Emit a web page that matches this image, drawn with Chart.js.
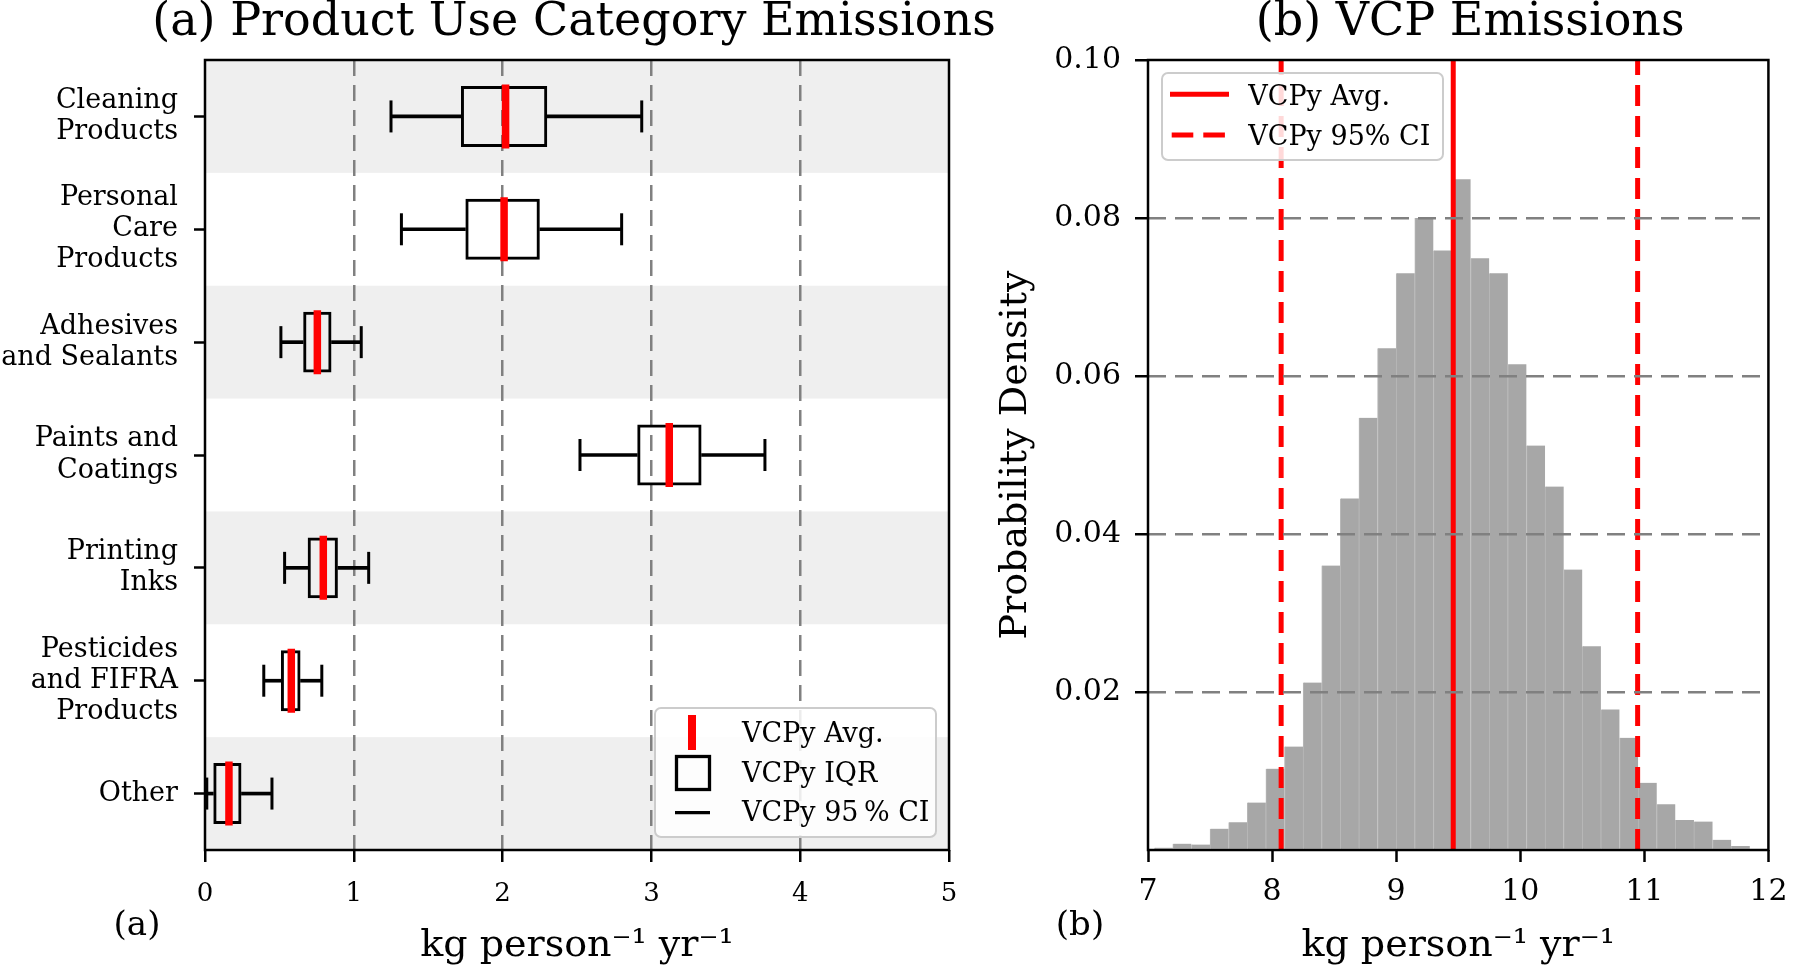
<!DOCTYPE html>
<html>
<head>
<meta charset="UTF-8">
<title>vcpEmissions.html</title>
<style>
	html, body {margin:0; padding:0; background:#fff; overflow:hidden;}
	#boxWrap {position:absolute; left:0; top:0; width:1020px; height:967px;}
	#histWrap {position:absolute; left:990px; top:0; width:810px; height:967px;}
</style>
</head>
<body>
	<div id="boxWrap"><canvas id="boxChart" width="1020" height="967"></canvas></div>
	<div id="histWrap"><canvas id="histChart" width="810" height="967"></canvas></div>
</body>
<script src="https://cdn.jsdelivr.net/npm/chart.js@4.4.0/dist/chart.umd.min.js"></script>
<script>
	// (a) product use categories (kg person-1 yr-1)
	const categories = [
		['Cleaning', 'Products'],
		['Personal', 'Care', 'Products'],
		['Adhesives', 'and Sealants'],
		['Paints and', 'Coatings'],
		['Printing', 'Inks'],
		['Pesticides', 'and FIFRA', 'Products'],
		['Other']
	];
	const ciLow  = [1.25, 1.32, 0.51, 2.52, 0.535, 0.395, 0.012];
	const q1     = [1.72, 1.75, 0.66, 2.905, 0.69, 0.51, 0.056];
	const avg    = [2.02, 2.01, 0.755, 3.12, 0.795, 0.58, 0.161];
	const q3     = [2.30, 2.25, 0.85, 3.337, 0.893, 0.642, 0.245];
	const ciHigh = [2.935, 2.80, 1.05, 3.763, 1.10, 0.785, 0.45];
	const boxTicks = [0, 1, 2, 3, 4, 5];

	// (b) VCP emissions histogram
	const binLeft = [7.05, 7.20, 7.35, 7.50, 7.65, 7.80, 7.95, 8.10, 8.25, 8.40, 8.55, 8.70,
		8.85, 9.00, 9.15, 9.30, 9.45, 9.60, 9.75, 9.90, 10.05, 10.20, 10.35, 10.50,
		10.65, 10.80, 10.95, 11.10, 11.25, 11.40, 11.55, 11.70];
	const binWidth = 0.15;
	const density = [0.0003, 0.0008, 0.0007, 0.0027, 0.0035, 0.0060, 0.0103, 0.0131, 0.0212, 0.0360, 0.0445, 0.0547,
		0.0635, 0.0730, 0.0800, 0.0759, 0.0849, 0.0749, 0.0730, 0.0615, 0.0512, 0.0460, 0.0355, 0.0258,
		0.0178, 0.0142, 0.0085, 0.0058, 0.0038, 0.0036, 0.0013, 0.0005];
	const vcpAvg = 9.46;
	const vcpCI = [8.073, 10.946];
	const densityTicks = [0.02, 0.04, 0.06, 0.08, 0.10];

	const axisLabel = 'kg person\u207B\u00B9 yr\u207B\u00B9';
	const gridGray = '#808080';

	Chart.defaults.font.family = "'DejaVu Serif', serif";
	Chart.defaults.color = '#000';

	function legendBox(ctx, x, y, w, h) {
		ctx.save();
		ctx.beginPath();
		ctx.roundRect(x, y, w, h, 6);
		ctx.fillStyle = 'rgba(255,255,255,0.85)';
		ctx.fill();
		ctx.lineWidth = 2;
		ctx.strokeStyle = '#cccccc';
		ctx.stroke();
		ctx.restore();
	}
	// 테두리 + 제목 (제목은 plot 폭보다 넓어서 직접 그림)
	function frameAndTitle(chart, title, shift) {
		const {ctx, chartArea: a} = chart;
		ctx.save();
		ctx.lineWidth = 2.5;
		ctx.strokeStyle = '#000';
		ctx.strokeRect(a.left, a.top, a.right - a.left, a.bottom - a.top);
		ctx.fillStyle = '#000';
		ctx.font = "46px 'DejaVu Serif'";
		ctx.textAlign = 'center';
		ctx.textBaseline = 'middle';
		ctx.fillText(title, (a.left + a.right) / 2 + shift, 23);
		ctx.restore();
	}

	// 회색 띠 + 범례
	const boxPlugin = {
		id: 'boxExtras',
		beforeDraw(chart) {
			const {ctx, chartArea: a, scales: {y}} = chart;
			ctx.save();
			ctx.fillStyle = '#efefef';
			categories.forEach(function(c, i) {
				if (i % 2) return;
				const t = y.getPixelForValue(i - 0.5), b = y.getPixelForValue(i + 0.5);
				ctx.fillRect(a.left, t, a.right - a.left, b - t);
			});
			ctx.restore();
		},
		afterDraw(chart) {
			const ctx = chart.ctx;
			frameAndTitle(chart, '(a) Product Use Category Emissions', -3);
			legendBox(ctx, 655, 708, 281, 129);
			ctx.save();
			ctx.fillStyle = '#ff0000';
			ctx.fillRect(688, 715, 8, 35);
			ctx.strokeStyle = '#000';
			ctx.lineWidth = 3.3;
			ctx.strokeRect(676.5, 756.5, 33, 33);
			ctx.beginPath();
			ctx.moveTo(675, 812.7); ctx.lineTo(710, 812.7);
			ctx.stroke();
			ctx.fillStyle = '#000';
			ctx.font = "27px 'DejaVu Serif'";
			ctx.textBaseline = 'alphabetic';
			ctx.fillText('VCPy Avg.', 742, 741.5);
			ctx.fillText('VCPy IQR', 742, 781.5);
			ctx.fillText('VCPy 95\u2009% CI', 742, 820.5);
			ctx.font = "34px 'DejaVu Serif'";
			ctx.textAlign = 'center';
			ctx.fillText('(a)', 137, 935);
			ctx.restore();
		}
	};

	const boxChart = new Chart(document.getElementById('boxChart'), {
		type: 'bar',
		data: {
			labels: categories,
			datasets: [{
				type: 'scatter', label: 'VCPy Avg.', indexAxis: 'x',
				data: avg.map(function(v, i) { return {x: v, y: i}; }),
				pointStyle: 'line', pointRotation: 90, pointRadius: 32,
				pointBorderWidth: 7.5, pointBorderColor: '#ff0000', pointBackgroundColor: '#ff0000'
			}, {
				type: 'scatter', label: 'cap low', indexAxis: 'x',
				data: ciLow.map(function(v, i) { return {x: v, y: i}; }),
				pointStyle: 'line', pointRotation: 90, pointRadius: 16,
				pointBorderWidth: 3, pointBorderColor: '#000'
			}, {
				type: 'scatter', label: 'cap high', indexAxis: 'x',
				data: ciHigh.map(function(v, i) { return {x: v, y: i}; }),
				pointStyle: 'line', pointRotation: 90, pointRadius: 16,
				pointBorderWidth: 3, pointBorderColor: '#000'
			}, {
				label: 'VCPy IQR',
				data: q1.map(function(v, i) { return [v, q3[i]]; }),
				backgroundColor: 'rgba(0,0,0,0)', borderColor: '#000', borderWidth: 3, borderSkipped: false,
				barPercentage: 0.54, categoryPercentage: 1, grouped: false
			}, {
				label: 'whisker low',
				data: ciLow.map(function(v, i) { return [v, q1[i]]; }),
				backgroundColor: '#000', borderWidth: 0, barThickness: 3, grouped: false
			}, {
				label: 'whisker high',
				data: q3.map(function(v, i) { return [v, ciHigh[i]]; }),
				backgroundColor: '#000', borderWidth: 0, barThickness: 3, grouped: false
			}]
		},
		options: {
			indexAxis: 'y',
			responsive: false, animation: false, events: [], devicePixelRatio: 1,
			layout: {padding: {left: 0, right: 71, top: 60, bottom: 0}},
			plugins: {
				legend: {display: false},
				tooltip: {enabled: false},
				title: {display: false}
			},
			scales: {
				x: {
					type: 'linear', min: boxTicks[0], max: boxTicks[boxTicks.length - 1], offset: false,
					afterFit: function(s) { s.height = 117; },
					ticks: {stepSize: 1, color: '#000', font: {size: 26}, padding: 17},
					grid: {
						offset: false,
						color: function(c) { return (c.tick && c.tick.value > 0 && c.tick.value < 5) ? gridGray : 'rgba(0,0,0,0)'; },
						lineWidth: 2.5, tickColor: '#000', tickWidth: 2.5, tickLength: 12
					},
					border: {display: false, dash: [16, 9]},
					title: {display: true, text: axisLabel, color: '#000', font: {size: 38, lineHeight: 1.1}, padding: 0}
				},
				y: {
					type: 'category', offset: true,
					afterFit: function(s) { s.width = 205; },
					ticks: {color: '#000', font: {size: 27, lineHeight: 1.15}, padding: 16, autoSkip: false},
					grid: {offset: false, drawOnChartArea: false, tickColor: '#000', tickWidth: 2.5, tickLength: 11},
					border: {display: false}
				}
			}
		},
		plugins: [boxPlugin]
	});

	// (b) 히스토그램
	const histPlugin = {
		id: 'histExtras',
		afterDraw(chart) {
			const ctx = chart.ctx;
			frameAndTitle(chart, '(b) VCP Emissions', 12);
			legendBox(ctx, 172, 73, 281, 87);
			ctx.save();
			ctx.strokeStyle = '#ff0000';
			ctx.lineWidth = 5;
			ctx.beginPath();
			ctx.moveTo(180, 94.3); ctx.lineTo(239, 94.3);
			ctx.stroke();
			ctx.setLineDash([21.6, 10]);
			ctx.beginPath();
			ctx.moveTo(181.7, 135); ctx.lineTo(236, 135);
			ctx.stroke();
			ctx.setLineDash([]);
			ctx.fillStyle = '#000';
			ctx.font = "27px 'DejaVu Serif'";
			ctx.fillText('VCPy Avg.', 258.3, 104.8);
			ctx.fillText('VCPy 95% CI', 258.3, 144.8);
			ctx.font = "34px 'DejaVu Serif'";
			ctx.textAlign = 'center';
			ctx.fillText('(b)', 90, 935);
			ctx.restore();
		}
	};

	function vline(x) {
		return [{x: x, y: 0}, {x: x, y: densityTicks[densityTicks.length - 1]}];
	}

	const histChart = new Chart(document.getElementById('histChart'), {
		type: 'bar',
		data: {
			datasets: [{
				type: 'line', label: 'VCPy Avg.', data: vline(vcpAvg),
				borderColor: '#ff0000', borderWidth: 5, pointRadius: 0
			}, {
				type: 'line', label: 'VCPy 95% CI', data: vline(vcpCI[0]),
				borderColor: '#ff0000', borderWidth: 5, borderDash: [21, 10], pointRadius: 0
			}, {
				type: 'line', label: 'VCPy 95% CI hi', data: vline(vcpCI[1]),
				borderColor: '#ff0000', borderWidth: 5, borderDash: [21, 10], pointRadius: 0
			}, {
				label: 'density',
				data: binLeft.map(function(x, i) { return {x: x + binWidth / 2, y: density[i]}; }),
				backgroundColor: '#a7a7a7', borderColor: '#b8b8b8',
				borderWidth: {left: 1, right: 0, top: 0, bottom: 0},
				barPercentage: 1, categoryPercentage: 1, grouped: false
			}]
		},
		options: {
			responsive: false, animation: false, events: [], devicePixelRatio: 1,
			layout: {padding: {left: 0, right: 18, top: 60, bottom: 0}},
			plugins: {
				legend: {display: false},
				tooltip: {enabled: false},
				title: {display: false}
			},
			scales: {
				x: {
					type: 'linear', min: 7, max: 12, offset: false,
					afterFit: function(s) { s.height = 117; },
					ticks: {stepSize: 1, color: '#000', font: {size: 30}, padding: 12.5},
					grid: {offset: false, drawOnChartArea: false, tickColor: '#000', tickWidth: 2.5, tickLength: 12},
					border: {display: false},
					title: {display: true, text: axisLabel, color: '#000', font: {size: 38, lineHeight: 1.1}, padding: 0}
				},
				y: {
					type: 'linear', min: 0, max: 0.1,
					afterFit: function(s) { s.width = 158; },
					ticks: {
						stepSize: 0.02, color: '#000', font: {size: 30}, padding: 14,
						callback: function(v) { return v < 0.001 ? '' : v.toFixed(2); }
					},
					grid: {
						z: 1,
						color: function(c) { return (c.tick && c.tick.value > 0.001 && c.tick.value < 0.099) ? gridGray : 'rgba(0,0,0,0)'; },
						lineWidth: 2.5,
						tickColor: function(c) { return (c.tick && c.tick.value > 0.001) ? '#000' : 'rgba(0,0,0,0)'; },
						tickWidth: 2.5, tickLength: 13
					},
					border: {display: false, dash: [18, 9]},
					title: {display: true, text: 'Probability Density', color: '#000', font: {size: 38, lineHeight: 1.2}, padding: {top: 3, bottom: 0}}
				}
			}
		},
		plugins: [histPlugin]
	});
</script>
</html>
